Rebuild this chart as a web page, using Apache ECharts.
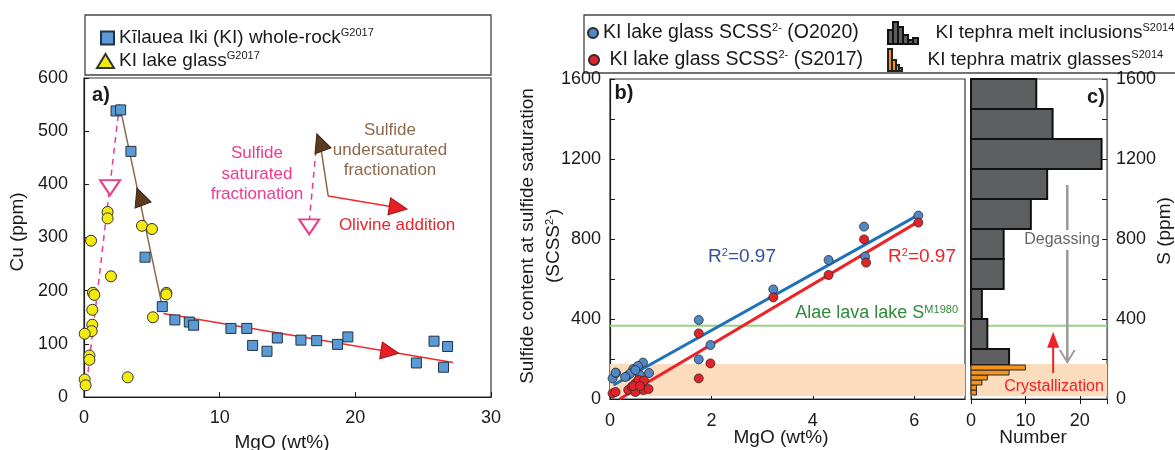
<!DOCTYPE html>
<html>
<head>
<meta charset="utf-8">
<script src="https://cdn.jsdelivr.net/npm/echarts@6/dist/echarts.min.js"></script>
<style>
html,body{margin:0;padding:0;background:#fff;}
#chart{width:1175px;height:450px;}
</style>
</head>
<body>
<div id="chart"></div>
<script>
// ---------------- Panel a: Cu vs MgO ----------------
const wrMgO = [2.36, 2.7, 3.46, 4.5, 5.77, 6.7, 7.76, 8.08, 10.83, 12.0, 12.43, 13.49, 14.25, 15.99, 17.15, 18.69, 19.45, 24.5, 25.8, 26.5, 26.8];
const wrCu  = [538, 540, 462, 263, 170, 145, 141, 135, 129, 129, 97, 86, 111, 107, 106, 99, 113, 64, 105, 56, 95];
const glassMgO = [1.74, 1.74, 4.27, 5.01, 0.52, 1.99, 6.07, 6.07, 0.66, 0.76, 0.61, 5.08, 0.61, 0.57, 0.05, 0.4, 0.4, 3.22, 0.05, 0.12];
const glassCu  = [348, 336, 322, 316, 294, 227, 196, 193, 196, 192, 164, 150, 136, 124, 119, 78, 70, 37, 33, 22];
// trend lines (MgO, Cu)
const satTrendX = [0.2, 2.65];      const satTrendY = [26, 558];
const undTrendX = [2.7, 5.77];      const undTrendY = [540, 170];
const olTrendX  = [5.85, 27.2];     const olTrendY  = [157, 65];
// key arrows drawn inside panel a
const keySatX = [16.6, 17.2];       const keySatY = [330, 491];
const keyUndX = [18.0, 17.45];      const keyUndY = [378, 470];
const keyOlX  = [18.0, 22.7];       const keyOlY  = [378, 358];
const headSat = [1.92, 394];  const headUnd = [4.13, 377];  const headOl = [22.55, 85];
const keyHeadSat = [16.6, 320]; const keyHeadUnd = [17.39, 479]; const keyHeadOl = [23.16, 356];
const cuTicks = [0, 100, 200, 300, 400, 500, 600];
const mgoTicksA = [0, 10, 20, 30];

// ---------------- Panel b: SCSS vs MgO ----------------
const o20MgO = [6.08, 5.01, 5.03, 4.31, 3.22, 1.75, 1.75, 1.98, 0.05, 0.12, 0.65, 0.46, 0.34, 0.77, 0.59, 0.55, 0.40, 0.50, 0.30, 0.11];
const o20S   = [917, 862, 712, 695, 548, 395, 198, 270, 103, 130, 182, 150, 115, 130, 120, 165, 128, 145, 110, 132];
const s17MgO = [6.08, 5.01, 5.05, 4.31, 3.22, 1.75, 1.75, 1.98, 0.05, 0.11, 0.36, 0.43, 0.50, 0.56, 0.66, 0.76, 0.56, 0.67, 0.50, 0.46, 0.59];
const s17S   = [882, 798, 682, 620, 508, 328, 103, 178, 28, 35, 45, 62, 78, 48, 45, 50, 95, 92, 35, 65, 65];
const o20FitX = [0.07, 6.1];  const o20FitY = [70, 923];
const s17FitX = [0.19, 6.08]; const s17FitY = [0, 887];
const alaeS = 366;                 // Alae lava lake S
const bandS = [15, 175];           // tephra matrix glass range
const mgoTicksB = [0, 2, 4, 6];
const sTicks = [0, 400, 800, 1200, 1600];

// ---------------- Panel c: S histograms ----------------
const miLo = [170, 250, 400, 550, 700, 850, 1000, 1150, 1300, 1450];
const miHi = [250, 400, 550, 700, 850, 1000, 1150, 1300, 1450, 1600];
const miN  = [7, 3, 2, 6, 6, 11, 14, 24, 15, 12];
const mgLo = [20, 45, 70, 95, 120, 145];
const mgHi = [45, 70, 95, 120, 145, 170];
const mgN  = [1, 1, 2, 3, 7, 10];
const degasX = [17.7, 17.7]; const degasY = [1070, 185];
const crystX = [15.1, 15.1]; const crystY = [130, 300];
const degasHead = [17.7, 210]; const crystHead = [15.1, 296];
const numTicks = [0, 10, 20];

// ---------------- helpers ----------------
const FONT = '"Liberation Sans", Arial, sans-serif';
const INK = '#1a1a1a';
const pairs = (xs, ys) => xs.map((x, i) => [x, ys[i]]);
const rows = (a, b, c) => a.map((v, i) => [v, b[i], c[i]]);

const SER_WR = 'Kīlauea Iki (KI) whole-rock';
const SER_GL = 'KI lake glass';
const SER_O20 = 'KI lake glass SCSS (O2020)';
const SER_S17 = 'KI lake glass SCSS (S2017)';
const SER_MI = 'KI tephra melt inclusions';
const SER_MG = 'KI tephra matrix glasses';
const legendText = {};
legendText[SER_WR] = 'Kīlauea Iki (KI) whole-rock{s|G2017}';
legendText[SER_GL] = 'KI lake glass{s|G2017}';
legendText[SER_O20] = 'KI lake glass SCSS{s|2-} (O2020)';
legendText[SER_S17] = ' KI lake glass SCSS{s|2-} (S2017)';
legendText[SER_MI] = 'KI tephra melt inclusions{s|S2014}';
legendText[SER_MG] = 'KI tephra matrix glasses{s|S2014}';

const SUP = {fontSize: 11, fontFamily: FONT, color: INK, verticalAlign: 'top', lineHeight: 12};

function legendOf(name, icon, left, top, w, h, textPadLeft, size) {
  return {
    data: [{name: name, icon: icon}], left: left, top: top, itemWidth: w, itemHeight: h,
    padding: 0, selectedMode: false, orient: 'horizontal',
    formatter: n => legendText[n],
    textStyle: {fontSize: size || 19, fontFamily: FONT, color: INK, lineHeight: 22, padding: [0, 0, 0, textPadLeft || 0],
      rich: {s: SUP}}
  };
}

function axisX(grid, min, max, interval, extra) {
  return Object.assign({
    type: 'value', gridIndex: grid, min: min, max: max, interval: interval,
    axisLine: {show: true, onZero: false, lineStyle: {color: INK, width: 1.2}},
    axisTick: {show: true, inside: true, length: 5, lineStyle: {color: INK}},
    axisLabel: {fontSize: 18, fontFamily: FONT, color: INK, margin: 12},
    splitLine: {show: false}
  }, extra || {});
}
function axisY(grid, min, max, interval, extra) {
  return Object.assign({
    type: 'value', gridIndex: grid, min: min, max: max, interval: interval,
    axisLine: {show: true, onZero: false, lineStyle: {color: INK, width: 1.2}},
    axisTick: {show: true, inside: true, length: 5, lineStyle: {color: INK}},
    axisLabel: {fontSize: 18, fontFamily: FONT, color: INK, margin: 14},
    splitLine: {show: false}
  }, extra || {});
}

function lineSer(grid, xs, ys, color, width, type, z) {
  return {type: 'line', xAxisIndex: grid, yAxisIndex: grid, data: pairs(xs, ys), symbol: 'none',
    lineStyle: {color: color, width: width, type: type || 'solid'}, silent: true, z: z || 3};
}
function headSer(grid, pt, symbol, rot, size, color, border, bw) {
  return {type: 'scatter', xAxisIndex: grid, yAxisIndex: grid, data: [pt], symbol: symbol,
    symbolRotate: rot, symbolSize: size, itemStyle: {color: color, borderColor: border, borderWidth: bw, opacity: 1},
    silent: true, z: 7};
}
function histRender(fill, stroke, lw) {
  return function (params, api) {
    const a = api.coord([0, api.value(1)]);
    const b = api.coord([api.value(2), api.value(0)]);
    return {type: 'rect', shape: {x: a[0], y: a[1], width: b[0] - a[0], height: b[1] - a[1]},
      style: {fill: fill, stroke: stroke, lineWidth: lw}};
  };
}
function bandRender(params, api) {
  const cs = params.coordSys;
  const top = api.coord([0, api.value(1)])[1];
  const bot = api.coord([0, api.value(0)])[1];
  return {type: 'rect', shape: {x: cs.x, y: top, width: cs.width, height: bot - top}, style: {fill: '#FBDCBC'}};
}
function bandSer(grid) {
  return {type: 'custom', xAxisIndex: grid, yAxisIndex: grid, data: [[bandS[0], bandS[1], 0]],
    encode: {x: 2, y: [0, 1]}, renderItem: bandRender, silent: true, z: 1};
}

const grayIcon = 'path://M0,22V8H5V22ZM5,22V0H10V22ZM10,22V5H15V22ZM15,22V13H20V22ZM20,22V18H25V22ZM25,22V16H30V22Z';
const orangeIcon = 'path://M0,22V0H4V22ZM4,22V11H8V22ZM8,22V16H11V22ZM11,22V19H14V22Z';
const sFmt = v => (sTicks.indexOf(v) >= 0 ? String(v) : '');

function txt(text, x, y, size, color, styleExtra, rotation) {
  const style = Object.assign({
    text: text, fontSize: size, fontFamily: FONT, fill: color, align: 'center', verticalAlign: 'middle',
    rich: {s: {fontSize: Math.round(size * 0.6), fontFamily: FONT, fill: color, verticalAlign: 'top'}}
  }, styleExtra || {});
  return {type: 'text', x: x, y: y, z: 100, silent: true, rotation: rotation || 0, style: style};
}

const chart = echarts.init(document.getElementById('chart'), null, {renderer: 'canvas'});
const option = {
  animation: false,
  backgroundColor: '#fff',
  grid: [
    {left: 84, top: 78, width: 407, height: 319, show: true, borderColor: '#333', borderWidth: 1.2, outerBoundsMode: 'none'},
    {left: 610, top: 79, width: 355, height: 320, show: true, borderColor: '#333', borderWidth: 1.2, outerBoundsMode: 'none'},
    {left: 971, top: 79, width: 136, height: 320, show: true, borderColor: '#555', borderWidth: 1.2, outerBoundsMode: 'none'}
  ],
  xAxis: [
    axisX(0, mgoTicksA[0], mgoTicksA[mgoTicksA.length - 1], 10),
    axisX(1, 0, 7, 2, {axisLabel: {fontSize: 18, fontFamily: FONT, color: INK, margin: 13, showMaxLabel: false}}),
    axisX(2, 0, 25, 10, {axisLabel: {fontSize: 18, fontFamily: FONT, color: INK, margin: 13, showMaxLabel: false}}),
    axisX(2, 0, 25, 10, {position: 'top', axisLine: {show: false}, axisLabel: {show: false}})
  ],
  yAxis: [
    axisY(0, cuTicks[0], cuTicks[cuTicks.length - 1], 100, {axisLabel: {fontSize: 18, fontFamily: FONT, color: INK, margin: 16}}),
    axisY(1, 0, 1600, 200, {axisLabel: {fontSize: 18, fontFamily: FONT, color: INK, margin: 9, formatter: sFmt}}),
    axisY(2, 0, 1600, 200, {position: 'right', axisLine: {show: true, onZero: false, lineStyle: {color: '#777', width: 1.2}},
      axisLabel: {fontSize: 18, fontFamily: FONT, color: INK, margin: 9, formatter: sFmt}})
  ],
  legend: [
    legendOf(SER_WR, 'rect', 100, 27, 13, 13, 0, 19),
    legendOf(SER_GL, 'triangle', 96, 50, 17, 14, 0, 19),
    legendOf(SER_O20, 'circle', 587, 22, 10, 10, 0, 19.5),
    legendOf(SER_S17, 'circle', 588, 49, 10, 10, 0, 19.5),
    legendOf(SER_MI, grayIcon, 887, 21, 31, 22, 12, 19),
    legendOf(SER_MG, orangeIcon, 887, 48, 31, 22, 12, 19)
  ],
  series: [
    // ---- panel a ----
    lineSer(0, satTrendX, satTrendY, '#EE3A8C', 1.5, [6, 5]),
    lineSer(0, undTrendX, undTrendY, '#8B6A4A', 1.5),
    lineSer(0, olTrendX, olTrendY, '#EE2B2B', 1.5),
    lineSer(0, keySatX, keySatY, '#EE3A8C', 1.5, [6, 5]),
    lineSer(0, keyUndX, keyUndY, '#8B6A4A', 1.5),
    lineSer(0, keyOlX, keyOlY, '#EE2B2B', 1.5),
    {name: SER_GL, type: 'scatter', xAxisIndex: 0, yAxisIndex: 0, data: pairs(glassMgO, glassCu), symbol: 'circle', symbolSize: 11,
      itemStyle: {color: '#F2EA10', borderColor: '#333', borderWidth: 1, opacity: 1}, z: 5},
    {name: SER_WR, type: 'scatter', xAxisIndex: 0, yAxisIndex: 0, data: pairs(wrMgO, wrCu), symbol: 'rect', symbolSize: 10,
      itemStyle: {color: '#5B9BD5', borderColor: '#223344', borderWidth: 1, opacity: 1}, z: 6},
    headSer(0, headSat, 'triangle', 180, [20, 15], '#fff', '#EE3A8C', 2),
    headSer(0, keyHeadSat, 'triangle', 180, [20, 15], '#fff', '#EE3A8C', 2),
    headSer(0, headUnd, 'triangle', 20, [17, 18], '#5C3B1E', '#3a2410', 1),
    headSer(0, keyHeadUnd, 'triangle', 20, [17, 18], '#5C3B1E', '#3a2410', 1),
    headSer(0, headOl, 'triangle', -99, [17, 18], '#E81E25', '#a01015', 1),
    headSer(0, keyHeadOl, 'triangle', -99, [17, 18], '#E81E25', '#a01015', 1),
    // ---- panel b ----
    bandSer(1),
    lineSer(1, [0, 7], [alaeS, alaeS], '#95D482', 2, 'solid', 2),
    lineSer(1, o20FitX, o20FitY, '#1F72BA', 3, 'solid', 4),
    lineSer(1, s17FitX, s17FitY, '#EC2228', 3, 'solid', 4),
    {name: SER_O20, type: 'scatter', xAxisIndex: 1, yAxisIndex: 1, data: pairs(o20MgO, o20S), symbol: 'circle', symbolSize: 9,
      itemStyle: {color: '#4F87C7', borderColor: '#2a2a2a', borderWidth: 0.8, opacity: 1}, z: 5},
    {name: SER_S17, type: 'scatter', xAxisIndex: 1, yAxisIndex: 1, data: pairs(s17MgO, s17S), symbol: 'circle', symbolSize: 9,
      itemStyle: {color: '#E3232A', borderColor: '#2a2a2a', borderWidth: 0.8, opacity: 1}, z: 6},
    // ---- panel c ----
    bandSer(2),
    lineSer(2, [0, 25], [alaeS, alaeS], '#95D482', 2, 'solid', 2),
    {name: SER_MI, type: 'custom', xAxisIndex: 2, yAxisIndex: 2, data: rows(miLo, miHi, miN), encode: {x: 2, y: [0, 1]},
      renderItem: histRender('#5E5F61', '#111', 2), itemStyle: {color: '#5E5F61', borderColor: '#111', borderWidth: 1}, z: 3, silent: true},
    {name: SER_MG, type: 'custom', xAxisIndex: 2, yAxisIndex: 2, data: rows(mgLo, mgHi, mgN), encode: {x: 2, y: [0, 1]},
      renderItem: histRender('#F5931E', '#2a2a2a', 1), itemStyle: {color: '#F5931E', borderColor: '#222', borderWidth: 1}, z: 4, silent: true},
    lineSer(2, degasX, degasY, '#9A9A9A', 2.5, 'solid', 5),
    headSer(2, degasHead, 'path://M0,0L10,13L20,0L17.5,0L10,9.5L2.5,0Z', 0, [17, 14], '#9A9A9A', '#9A9A9A', 0),
    lineSer(2, crystX, crystY, '#EE2228', 2, 'solid', 5),
    headSer(2, crystHead, 'triangle', 0, [12, 16], '#EE2228', '#EE2228', 0)
  ],
  graphic: {elements: [
    {type: 'rect', z: 0, silent: true, shape: {x: 85, y: 15, width: 406, height: 60}, style: {fill: 'none', stroke: '#444', lineWidth: 1.3}},
    {type: 'rect', z: 0, silent: true, shape: {x: 584, y: 15, width: 620, height: 58}, style: {fill: 'none', stroke: '#444', lineWidth: 1.3}},
    // axis titles
    txt('Cu (ppm)', 18, 232, 19, INK, null, Math.PI / 2),
    txt('MgO (wt%)', 282, 443, 19, INK),
    txt('Sulfide content at sulfide saturation', 528, 236, 19, INK, null, Math.PI / 2),
    txt('(SCSS{s|2-})', 554, 246, 19, INK, null, Math.PI / 2),
    txt('MgO (wt%)', 781, 438, 19, INK),
    txt('Number', 1033, 438, 19, INK),
    txt('S (ppm)', 1165, 231, 19, INK, null, Math.PI / 2),
    // panel letters
    txt('a)', 101, 95, 20, INK, {fontWeight: 'bold'}),
    txt('b)', 624, 93, 20, INK, {fontWeight: 'bold'}),
    txt('c)', 1096, 97, 20, INK, {fontWeight: 'bold'}),
    // panel a annotations
    txt('Sulfide\nsaturated\nfractionation', 257, 174, 17, '#EE3A8C', {lineHeight: 20.5}),
    txt('Sulfide\nundersaturated\nfractionation', 390, 150, 17, '#8C6A4C', {lineHeight: 20}),
    txt('Olivine addition', 397, 225, 17, '#EE2229'),
    // panel b annotations
    txt('R{s|2}=0.97', 742, 257, 19, '#3A4D9E'),
    txt('R{s|2}=0.97', 922, 257, 19, '#EC2228'),
    txt('Alae lava lake S{s|M1980}', 958, 313, 18, '#2F8A3C', {align: 'right'}),
    // panel c annotations
    txt('Degassing', 1062, 240, 16, '#666', {backgroundColor: '#fff', padding: [2, 1, 2, 1]}),
    txt('Crystallization', 1054, 387, 16, '#EE2228')
  ]}
};
chart.setOption(option);
</script>
</body>
</html>
